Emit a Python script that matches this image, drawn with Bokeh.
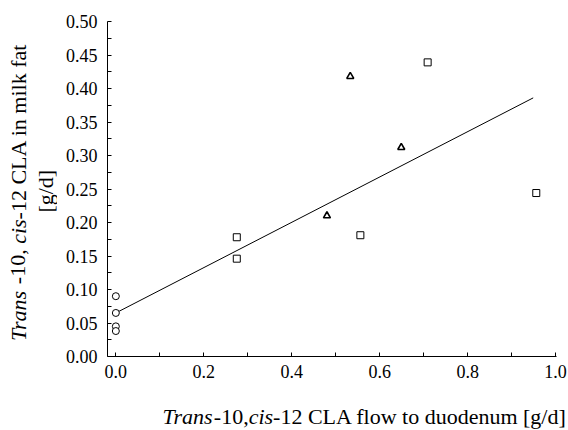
from bokeh.plotting import figure
from bokeh.models import FixedTicker, PrintfTickFormatter, Range1d
from bokeh.core.properties import value
from bokeh.layouts import row, column
from bokeh.embed import file_html
from bokeh.resources import INLINE
import math

# ---- data ----
circle_x = [0.0, 0.0, 0.0, 0.0]
circle_y = [0.090, 0.065, 0.045, 0.038]

square_x = [0.275, 0.275, 0.556, 0.709, 0.956]
square_y = [0.178, 0.146, 0.181, 0.439, 0.244]

triangle_x = [0.480, 0.533, 0.649]
triangle_y = [0.210, 0.418, 0.312]

fit_x = [0.0, 0.949]
fit_y = [0.065, 0.386]

x_ticks = [0.0, 0.2, 0.4, 0.6, 0.8, 1.0]
x_minor = [0.1, 0.3, 0.5, 0.7, 0.9]
y_ticks = [0.0, 0.05, 0.10, 0.15, 0.20, 0.25, 0.30, 0.35, 0.40, 0.45, 0.50]
y_minor = [0.025, 0.075, 0.125, 0.175, 0.225, 0.275, 0.325, 0.375, 0.425, 0.475]

x_title = [("Trans", True), ("-10,", False), ("cis", True), ("-12 CLA flow to duodenum [g/d]", False)]
y_title = [("Trans", True), (" ", False), ("-10,", False), (" ", False), ("cis", True),
           ("-12 CLA in milk fat", False)]
y_title2 = "[g/d]"

FONT = "Liberation Serif"

YW = 57      # width of the y-title strip
TOPH = 390   # height of the top row
XH = 40      # height of the x-title strip

p = figure(width=568 - YW, height=TOPH, output_backend="svg", toolbar_location=None,
           x_range=Range1d(-0.019, 1.002), y_range=Range1d(0.0, 0.5),
           min_border_left=107 - YW, min_border_right=12, min_border_top=21,
           min_border_bottom=TOPH - 356)
p.frame_align = False
p.outline_line_color = None
p.xgrid.visible = False
p.ygrid.visible = False
p.background_fill_color = "white"
p.border_fill_color = "white"

for ax, ticks, minor, fmt, standoff in ((p.xaxis[0], x_ticks, x_minor, "%.1f", 8),
                                         (p.yaxis[0], y_ticks, y_minor, "%.2f", 10)):
    ax.ticker = FixedTicker(ticks=ticks, minor_ticks=minor)
    ax.formatter = PrintfTickFormatter(format=fmt)
    ax.axis_line_color = "black"
    ax.axis_line_width = 1
    ax.major_tick_in = 4
    ax.major_tick_out = 0
    ax.minor_tick_in = 4
    ax.minor_tick_out = 0
    ax.major_tick_line_color = "black"
    ax.minor_tick_line_color = "black"
    ax.major_label_text_font = FONT
    ax.major_label_text_font_size = "18px"
    ax.major_label_text_color = "black"
    ax.major_label_standoff = standoff
    ax.axis_label = None

p.line(fit_x, fit_y, line_color="black", line_width=1)
p.scatter(circle_x, circle_y, marker="circle", size=7, fill_color="white",
          line_color="black", line_width=1)
p.scatter(square_x, square_y, marker="square", size=7, fill_color="white",
          line_color="black", line_width=1)
p.scatter(triangle_x, triangle_y, marker="triangle", size=7, fill_color="white",
          line_color="black", line_width=1.6)


def strip(w, h):
    f = figure(width=w, height=h, output_backend="svg", toolbar_location=None,
               x_axis_type=None, y_axis_type=None, x_range=Range1d(0, w), y_range=Range1d(0, h),
               min_border=0, min_border_left=0, min_border_right=0,
               min_border_top=0, min_border_bottom=0, title=None)
    f.frame_align = False
    f.outline_line_color = None
    f.background_fill_color = "white"
    f.border_fill_color = "white"
    f.grid.visible = False
    return f


# Times / Liberation Serif advance widths (1/1000 em) for laying out mixed italic titles
REG = {' ': 250, ',': 250, '-': 333, '.': 250, '/': 278, '[': 333, ']': 333,
       'C': 667, 'L': 611, 'A': 722, 'a': 444, 'c': 444, 'd': 500, 'e': 444,
       'f': 333, 'g': 500, 'i': 278, 'k': 500, 'l': 278, 'm': 778, 'n': 500,
       'o': 500, 'r': 333, 's': 389, 't': 278, 'u': 500, 'w': 722}
ITA = {'T': 556, 'r': 389, 'a': 500, 'n': 500, 's': 389, 'c': 444, 'i': 278}


def width(text, italic, size):
    tab = ITA if italic else REG
    return sum(tab.get(ch, 500) for ch in text) * size / 1000.0


def place(fig, parts, x0, y0, size, angle=0.0):
    pos = 0.0
    for t, it in parts:
        if t.strip():
            lx, ly = (x0 + pos, y0) if angle == 0.0 else (x0, y0 + pos)
            fig.text(x=[lx], y=[ly], text=[t], angle=angle,
                     text_font=value(FONT), text_font_size=f"{size}px",
                     text_font_style="italic" if it else "normal",
                     text_baseline="alphabetic", text_align="left", text_color="black")
        pos += width(t, it, size)


yfig = strip(YW, TOPH)
ytot = sum(width(t, it, 22) for t, it in y_title)
ycenter = TOPH - 191.7
place(yfig, y_title, 17.5, ycenter - ytot / 2, 22, angle=math.pi / 2)
yfig.text(x=[45], y=[ycenter + 1], text=[y_title2], angle=math.pi / 2,
          text_font=value(FONT), text_font_size="22px", text_baseline="alphabetic",
          text_align="center", text_color="black")

xfig = strip(568, XH)
place(xfig, x_title, 162, XH - 26, 22)

layout = column(row(yfig, p, spacing=0), xfig, spacing=0)
open("out.html", "w").write(file_html(layout, INLINE))
